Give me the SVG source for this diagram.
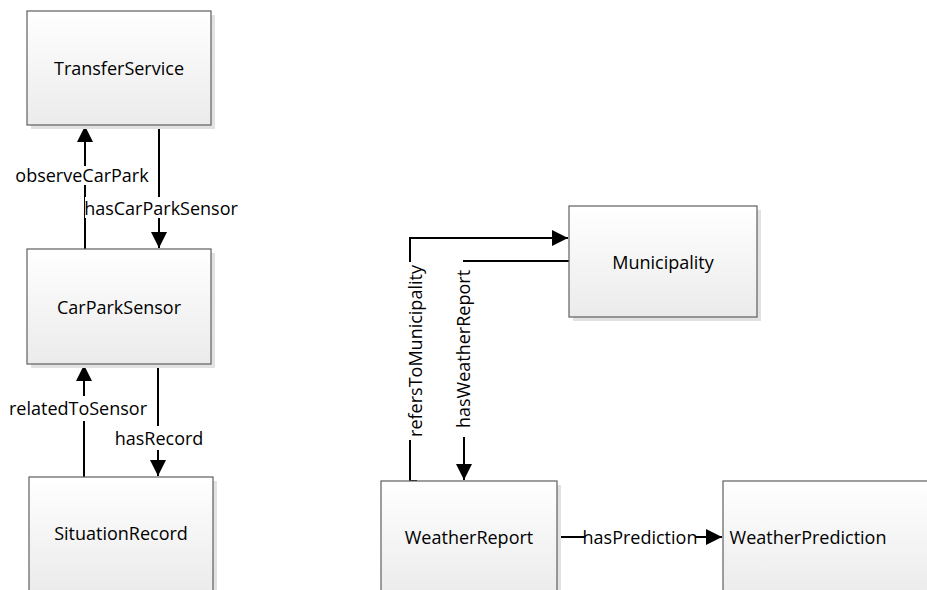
<svg xmlns="http://www.w3.org/2000/svg" width="927" height="590" viewBox="0 0 927 590">
<defs>
<linearGradient id="g" x1="0" y1="0" x2="0" y2="1">
<stop offset="0" stop-color="#ffffff"/>
<stop offset="1" stop-color="#ebebeb"/>
</linearGradient>
<marker id="ah" viewBox="0 0 10 10" refX="10" refY="5" markerWidth="16" markerHeight="16" markerUnits="userSpaceOnUse" orient="auto">
<path d="M0,0 L10,5 L0,10 Z" fill="#000"/>
</marker>
</defs>
<style>
.sh{fill:#e2e2e2;}
.box{fill:url(#g);stroke:#5f5f5f;stroke-width:1.2;}
.t{font-family:"Open Sans","Liberation Sans",sans-serif;font-size:18px;fill:#000;text-anchor:middle;dominant-baseline:central;}
.c{fill:none;stroke:#000;stroke-width:2;}
.lb{fill:#fff;}
</style>
<rect width="927" height="590" fill="#fff"/>
<g id="connectors">
<path class="c" d="M85,249 V126" marker-end="url(#ah)"/>
<path class="c" d="M159,125 V248" marker-end="url(#ah)"/>
<path class="c" d="M84,477 V365" marker-end="url(#ah)"/>
<path class="c" d="M158,364 V476" marker-end="url(#ah)"/>
<path class="c" d="M417,481 H410 V238 H568" marker-end="url(#ah)"/>
<path class="c" d="M569,261 H464 V480" marker-end="url(#ah)"/>
<path class="c" d="M557,537 H722" marker-end="url(#ah)"/>
<rect class="lb" x="16" y="166" width="134" height="19"/>
<text class="t" x="82" y="175">observeCarPark</text>
<rect class="lb" x="85" y="197" width="152" height="21"/>
<text class="t" x="161" y="208">hasCarParkSensor</text>
<rect class="lb" x="10" y="396" width="137" height="25"/>
<text class="t" x="78" y="408">relatedToSensor</text>
<rect class="lb" x="116" y="426" width="87" height="24"/>
<text class="t" x="159" y="438">hasRecord</text>
<rect class="lb" x="405" y="262" width="20" height="178"/>
<text class="t" transform="translate(415,351) rotate(-90)">refersToMunicipality</text>
<rect class="lb" x="453" y="262" width="20" height="175"/>
<text class="t" transform="translate(463,349) rotate(-90)">hasWeatherReport</text>
<rect class="lb" x="585" y="527" width="110" height="20"/>
<text class="t" x="640" y="537">hasPrediction</text>
</g>
<g id="TransferService">
<rect class="sh" x="31" y="15" width="184" height="114"/>
<rect class="box" x="27" y="11" width="184" height="114"/>
<text class="t" x="119" y="68">TransferService</text>
</g>
<g id="CarParkSensor">
<rect class="sh" x="31" y="253" width="184" height="115"/>
<rect class="box" x="27" y="249" width="184" height="115"/>
<text class="t" x="119" y="307">CarParkSensor</text>
</g>
<g id="SituationRecord">
<rect class="sh" x="33" y="481" width="184" height="115"/>
<rect class="box" x="29" y="477" width="184" height="115"/>
<text class="t" x="121" y="533">SituationRecord</text>
</g>
<g id="Municipality">
<rect class="sh" x="573" y="210" width="188" height="111"/>
<rect class="box" x="569" y="206" width="188" height="111"/>
<text class="t" x="663" y="262">Municipality</text>
</g>
<g id="WeatherReport">
<rect class="sh" x="385" y="485" width="176" height="115"/>
<rect class="box" x="381" y="481" width="176" height="115"/>
<text class="t" x="469" y="537">WeatherReport</text>
</g>
<g id="WeatherPrediction">
<rect class="sh" x="727" y="485" width="220" height="115"/>
<rect class="box" x="723" y="481" width="220" height="115"/>
<text class="t" x="808" y="537">WeatherPrediction</text>
</g>
</svg>
